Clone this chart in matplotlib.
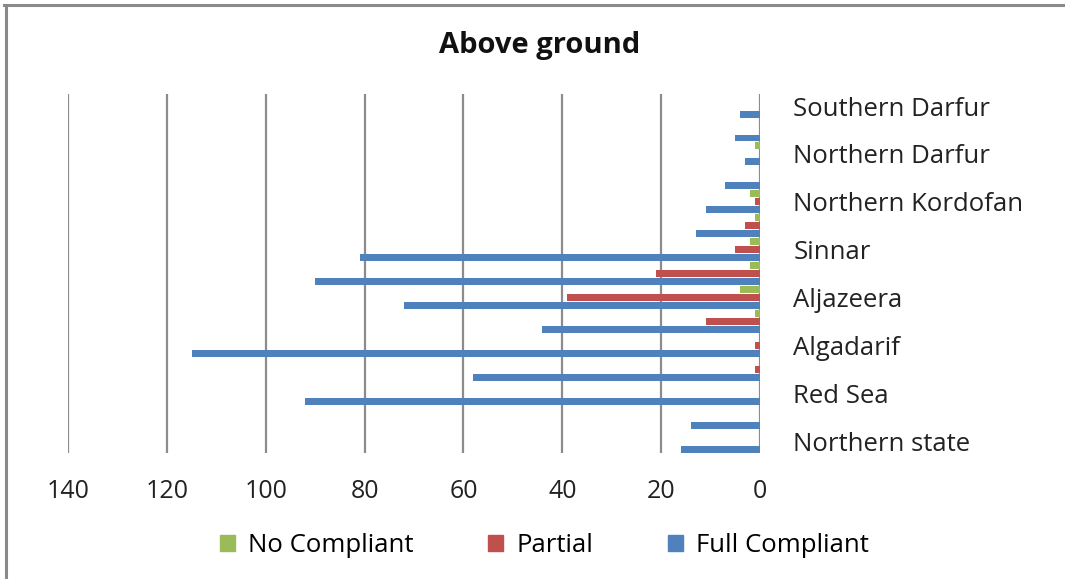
import numpy as np
import matplotlib.pyplot as plt
from matplotlib.patches import Patch

# states listed bottom to top, as on the chart
states = ["Northern state", "River Nile", "Red Sea", "Kassala", "Algadarif",
          "Khartoum", "Aljazeera", "White Nile", "Sinnar", "Blue Nile",
          "Northern Kordofan", "Southern Kordofan", "Northern Darfur",
          "Western Darfur", "Southern Darfur"]
no_compliant = [0, 0, 0, 0, 0, 1, 4, 2, 2, 1, 2, 0, 1, 0, 0]
partial = [0, 0, 0, 1, 1, 11, 39, 21, 5, 3, 1, 0, 0, 0, 0]
full_compliant = [16, 14, 92, 58, 115, 44, 72, 90, 81, 13, 11, 7, 3, 5, 4]
ticks = [0, 20, 40, 60, 80, 100, 120, 140]

green = "#9BBB59"
red = "#C0504D"
blue = "#4F81BD"

plt.rcParams['font.family'] = ['Open Sans', 'DejaVu Sans']

fig = plt.figure(figsize=(10.65, 5.79), dpi=100)
ax = fig.add_axes([0.0638, 0.2175, 0.6498, 0.62])

y = np.arange(len(states))
h = 0.29
off = 0.335
ax.barh(y + off, no_compliant, height=h, color=green, zorder=3)
ax.barh(y, partial, height=h, color=red, zorder=3)
ax.barh(y - off, full_compliant, height=h, color=blue, zorder=3)

ax.set_xlim(140, 0)
ax.set_ylim(-0.5, len(states) - 0.5)
ax.set_xticks(ticks)
ax.set_xticklabels([str(t) for t in ticks], fontsize=18, color="#222222")
ax.tick_params(axis="x", length=0, pad=19)

# only every other state fits on the axis
ax.yaxis.tick_right()
ax.set_yticks(y)
ax.set_yticklabels([s if i % 2 == 0 else "" for i, s in enumerate(states)],
                   fontsize=18.5, color="#222222", ha="left")
ax.tick_params(axis="y", length=0, pad=24)

for t in ticks:
    ax.axvline(t, color="#8c8c8c", lw=1.6, zorder=1)
for s in ax.spines.values():
    s.set_visible(False)

fig.text(0.507, 0.922, "Above ground", ha="center", va="center",
         fontsize=21, fontweight="bold", color="#111111")

handles = [Patch(color=green, label="No Compliant"),
           Patch(color=red, label="Partial"),
           Patch(color=blue, label="Full Compliant")]
fig.legend(handles=handles, loc="center", bbox_to_anchor=(0.511, 0.058),
           ncol=3, frameon=False, fontsize=18.5, handlelength=0.6,
           handleheight=0.6, handletextpad=0.5, columnspacing=2.9)

# chart border, only left and top edges show
fig.add_artist(plt.Line2D([0.0052, 0.0052], [0, 0.991], color="#8a8a8a", lw=2.2,
                          transform=fig.transFigure))
fig.add_artist(plt.Line2D([0.0042, 1], [0.991, 0.991], color="#8a8a8a", lw=2.2,
                          transform=fig.transFigure))

fig.savefig("out.png", dpi=100)
